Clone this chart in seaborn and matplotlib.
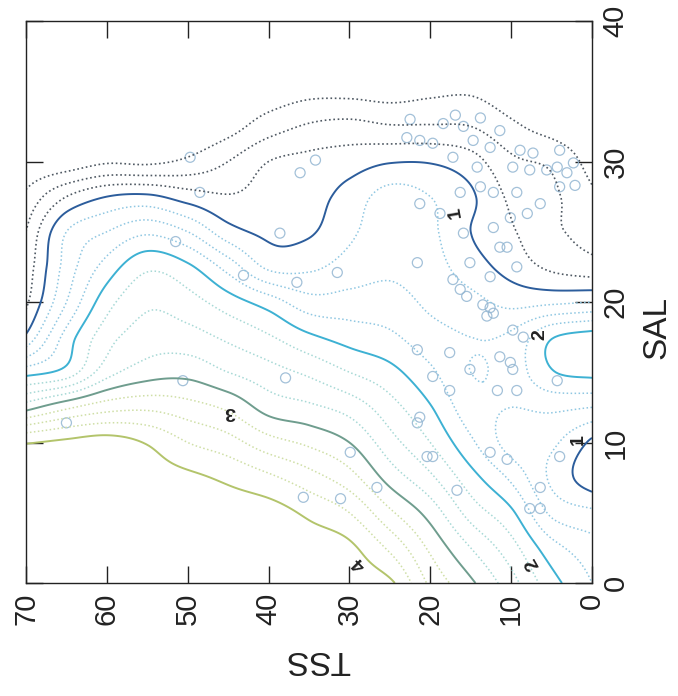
import numpy as np
import pandas as pd
import matplotlib
matplotlib.use("Agg")
import matplotlib.pyplot as plt
import seaborn as sns

# ---------------------------------------------------------------------------
# Surface on a regular TSS x SAL grid (one list per TSS node, SAL 0 -> 40)
# ---------------------------------------------------------------------------
tss_nodes = [0, 5, 10, 15, 20, 25, 30, 35, 40, 45, 50, 55, 60, 65, 70]
sal_nodes = [0, 2.5, 5, 7.5, 10, 12.5, 15, 17.5, 20, 22.5, 25, 27.5, 30, 32.5, 35, 37.5, 40]

z_tss00 = [1.75, 1.60, 1.30, 0.85, 0.95, 1.50, 2.06, 2.10, 1.25, 0.60, 0.42, 0.30, 0.15, 0.05, 0.0, 0.0, 0.0]
z_tss05 = [2.10, 1.85, 1.45, 1.20, 1.30, 1.55, 1.98, 1.98, 1.20, 0.70, 0.55, 0.55, 0.45, 0.15, 0.02, 0.0, 0.0]
z_tss10 = [2.60, 2.35, 2.05, 1.70, 1.40, 1.50, 1.60, 1.55, 1.18, 0.90, 0.78, 0.70, 0.55, 0.30, 0.10, 0.02, 0.0]
z_tss15 = [3.05, 2.75, 2.40, 2.10, 1.80, 1.60, 1.50, 1.50, 1.33, 1.12, 1.00, 1.04, 0.85, 0.50, 0.22, 0.05, 0.0]
z_tss20 = [3.45, 3.20, 2.90, 2.55, 2.25, 2.02, 1.80, 1.60, 1.45, 1.35, 1.30, 1.25, 0.98, 0.52, 0.20, 0.05, 0.0]
z_tss25 = [4.05, 3.70, 3.30, 2.90, 2.60, 2.35, 2.08, 1.80, 1.60, 1.45, 1.40, 1.35, 0.98, 0.52, 0.15, 0.03, 0.0]
z_tss30 = [4.12, 4.05, 3.75, 3.35, 3.00, 2.65, 2.25, 1.90, 1.60, 1.35, 1.20, 1.10, 0.88, 0.58, 0.18, 0.03, 0.0]
z_tss35 = [4.15, 4.12, 3.95, 3.60, 3.20, 2.80, 2.45, 2.05, 1.60, 1.20, 0.97, 0.90, 0.82, 0.53, 0.18, 0.03, 0.0]
z_tss40 = [4.15, 4.15, 4.10, 3.80, 3.35, 2.90, 2.60, 2.28, 1.88, 1.20, 0.95, 0.85, 0.75, 0.38, 0.10, 0.02, 0.0]
z_tss45 = [4.15, 4.15, 4.12, 3.95, 3.60, 3.20, 2.75, 2.45, 2.12, 1.65, 1.10, 0.77, 0.50, 0.15, 0.03, 0.0, 0.0]
z_tss50 = [4.15, 4.15, 4.13, 4.05, 3.75, 3.35, 2.92, 2.60, 2.35, 2.05, 1.50, 0.88, 0.30, 0.03, 0.0, 0.0, 0.0]
z_tss55 = [4.15, 4.15, 4.15, 4.10, 3.98, 3.45, 2.88, 2.62, 2.45, 2.20, 1.70, 1.05, 0.20, 0.02, 0.0, 0.0, 0.0]
z_tss60 = [4.15, 4.15, 4.15, 4.12, 4.10, 3.40, 2.65, 2.40, 2.15, 1.85, 1.50, 1.00, 0.22, 0.02, 0.0, 0.0, 0.0]
z_tss65 = [4.15, 4.15, 4.15, 4.12, 4.05, 3.20, 2.10, 1.85, 1.50, 1.35, 1.25, 0.75, 0.10, 0.0, 0.0, 0.0, 0.0]
z_tss70 = [4.15, 4.15, 4.14, 4.10, 3.98, 2.90, 1.90, 1.05, 0.70, 0.60, 0.50, 0.30, 0.05, 0.0, 0.0, 0.0, 0.0]

# Observed samples (TSS, SAL)
obs_tss = [49.7, 48.5, 51.5, 43.1, 36.5, 31.5, 36.1, 34.2, 38.6,
           22.9, 21.3, 19.7, 18.4, 15.9, 14.7, 12.6, 11.4, 14.2, 13.8,
           21.3, 18.8, 17.2, 16.3, 15.9, 21.6, 15.1, 17.2, 12.2, 11.4,
           9.8, 9.3, 7.7, 7.3, 5.6, 4.3, 4.0, 8.0, 6.4, 3.1, 2.3,
           10.1, 12.2, 10.5, 9.3, 12.6, 16.3, 15.5, 13.5, 12.6, 12.2, 13.0,
           21.6, 17.6, 19.7, 15.1, 9.8, 8.5, 11.4, 10.1, 9.8,
           21.3, 11.7, 9.3, 4.3, 12.6, 10.5, 4.0, 17.6, 21.6,
           29.9, 20.4, 19.7, 26.6, 16.7, 31.1, 35.7, 6.4, 7.7, 6.4,
           65.0, 50.6, 37.9,
           22.5, 16.9, 13.8, 8.9, 4.0, 2.1]
obs_sal = [30.3, 27.8, 24.3, 21.9, 21.4, 22.1, 29.2, 30.1, 24.9,
           31.7, 31.5, 31.3, 32.7, 32.5, 31.5, 31.0, 32.2, 29.6, 28.2,
           27.0, 26.3, 30.3, 27.8, 24.9, 22.8, 22.8, 21.6, 25.3, 23.9,
           29.6, 27.8, 29.4, 30.6, 29.4, 29.6, 28.2, 26.3, 27.0, 29.2, 29.9,
           26.0, 27.8, 23.9, 22.5, 21.8, 20.9, 20.4, 19.8, 19.6, 19.2, 19.0,
           16.6, 16.4, 14.7, 15.2, 18.0, 17.5, 16.1, 15.7, 15.2,
           11.8, 13.7, 13.7, 14.4, 9.3, 8.8, 9.0, 13.7, 11.4,
           9.3, 9.0, 9.0, 6.8, 6.6, 6.0, 6.1, 6.8, 5.3, 5.3,
           11.4, 14.4, 14.6,
           33.0, 33.3, 33.1, 30.8, 30.8, 28.3]

contour_levels = [0.25, 0.5, 0.75, 1.0, 1.25, 1.5, 1.75, 2.0,
                  2.25, 2.5, 2.75, 3.0, 3.25, 3.5, 3.75, 4.0]

# Inline contour labels
label_text = ["1", "1", "2", "2", "3", "4"]
label_tss = [16.9, 1.7, 6.4, 7.3, 44.7, 28.7]
label_sal = [26.4, 10.2, 17.7, 1.4, 12.2, 1.4]
label_rot = [100, 90, 90, 120, 180, 135]

tss_ticks = [0, 10, 20, 30, 40, 50, 60, 70]
sal_ticks = [0, 10, 20, 30, 40]


def catmull_rom_matrix(n_src, n_dst):
    """Linear operator resampling n_src nodes onto n_dst points with a cubic spline."""
    u = np.linspace(0.0, n_src - 1, n_dst)
    i = np.clip(np.floor(u).astype(int), 0, n_src - 2)
    f = u - i
    weights = [(-f + 2 * f**2 - f**3) / 2,
               (2 - 5 * f**2 + 3 * f**3) / 2,
               (f + 4 * f**2 - 3 * f**3) / 2,
               (-f**2 + f**3) / 2]
    m = np.zeros((n_dst, n_src))
    rows = np.arange(n_dst)
    for k, w in zip((-1, 0, 1, 2), weights):
        np.add.at(m, (rows, np.clip(i + k, 0, n_src - 1)), w)
    return m


def level_style(v):
    if abs(v - round(v)) < 1e-9:
        col = {1: "#2c5d9c", 2: "#3db1d3", 3: "#6f9d8e", 4: "#b3c46b"}[int(round(v))]
        return col, "solid", 1.4
    if v < 1:
        return "#4f5963", (0, (1, 1.6)), 1.2
    if v < 2:
        return "#8fc7e2", (0, (1, 1.6)), 1.1
    if v < 3:
        return "#a7d9d6", (0, (1, 1.6)), 1.1
    return "#cfdfa6", (0, (1, 1.6)), 1.1


sns.set_theme(style="white")
plt.rcParams["font.family"] = ["Liberation Sans", "DejaVu Sans"]

columns = [z_tss00, z_tss05, z_tss10, z_tss15, z_tss20, z_tss25, z_tss30, z_tss35,
           z_tss40, z_tss45, z_tss50, z_tss55, z_tss60, z_tss65, z_tss70]
z = np.array(columns).T  # rows: SAL, cols: TSS

n_fine_t, n_fine_s = 281, 321
mt = catmull_rom_matrix(len(tss_nodes), n_fine_t)
ms = catmull_rom_matrix(len(sal_nodes), n_fine_s)
z_fine = ms @ z @ mt.T
tss_fine = mt @ np.array(tss_nodes, float)
sal_fine = ms @ np.array(sal_nodes, float)

fig = plt.figure(figsize=(6.78, 6.96), dpi=100)
ax = fig.add_axes([26 / 678, 1 - 583 / 696, 566 / 678, 562 / 696])

styles = [level_style(v) for v in contour_levels]
ax.contour(tss_fine, sal_fine, z_fine, levels=contour_levels,
           colors=[s[0] for s in styles],
           linestyles=[s[1] for s in styles],
           linewidths=[s[2] for s in styles])

obs = pd.DataFrame({"TSS": obs_tss, "SAL": obs_sal})
sns.scatterplot(data=obs, x="TSS", y="SAL", marker="o", s=52, ax=ax, legend=False)
pts = ax.collections[-1]
pts.set_facecolor("none")
pts.set_edgecolor("#93b6d2")
pts.set_linewidth(0.9)
pts.set_alpha(0.85)

for txt, t, s, r in zip(label_text, label_tss, label_sal, label_rot):
    ax.text(t, s, txt, rotation=r, ha="center", va="center",
            fontsize=14, color="#222222", fontweight="bold")

ax.set_xlim(70, 0)
ax.set_ylim(0, 40)
ax.set_xticks(tss_ticks)
ax.set_yticks(sal_ticks)
ax.tick_params(axis="both", direction="in", length=12, width=1.0, color="#222222",
               top=True, bottom=True, left=True, right=True,
               labelsize=21, pad=7, labelcolor="#222222")
ax.tick_params(axis="y", labelleft=False, labelright=True)
for lab in ax.get_xticklabels():
    lab.set_rotation(90)
for lab in ax.get_yticklabels():
    lab.set_rotation(90)
    lab.set_va("center")

for sp in ax.spines.values():
    sp.set_color("#222222")
    sp.set_linewidth(1.0)

ax.set_xlabel("TSS", fontsize=24, rotation=180, color="#222222")
ax.xaxis.set_label_coords(0.516, -0.137)
ax.xaxis.label.set_va("center")
ax.yaxis.set_label_position("right")
ax.set_ylabel("SAL", fontsize=24, rotation=90, color="#222222")
ax.yaxis.set_label_coords(1.115, 0.455)
ax.yaxis.label.set_va("center")
ax.yaxis.label.set_ha("center")

fig.savefig("out.png", dpi=100, facecolor="white")
